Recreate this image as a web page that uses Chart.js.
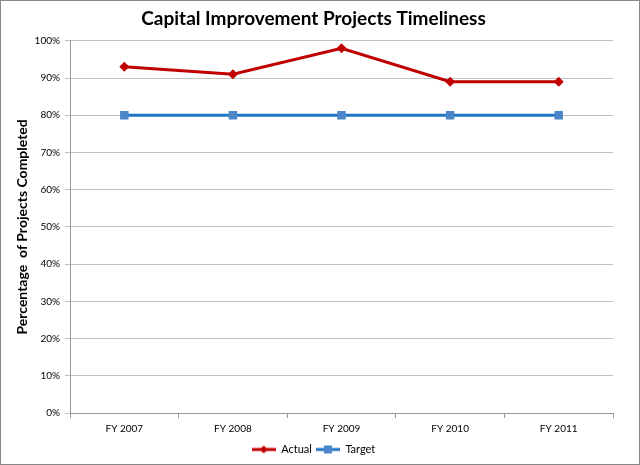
<!DOCTYPE html>
<html>
<head>
<meta charset="utf-8">
<script src="https://cdn.jsdelivr.net/npm/chart.js@4/dist/chart.umd.min.js"></script>
<style>
  html, body { margin: 0; padding: 0; background: #fff; }
  #wrap { width: 640px; height: 465px; }
</style>
</head>
<body>
<div id="wrap"><canvas id="chart" width="640" height="465"></canvas></div>
<script>
const years = ["FY 2007", "FY 2008", "FY 2009", "FY 2010", "FY 2011"];
const actual = [93, 91, 98, 89, 89];
const target = [80, 80, 80, 80, 80];

const red = "#C00000";
const blue = "#1F77C4";
const blueMarker = "#4A86C8";

// small legend symbol: line with marker
function legendIcon(color, fill, shape) {
    const c = document.createElement("canvas");
    c.width = 24; c.height = 10;
    const g = c.getContext("2d");
    g.strokeStyle = color;
    g.lineWidth = 3;
    g.beginPath(); g.moveTo(0, 5); g.lineTo(24, 5); g.stroke();
    g.fillStyle = fill;
    if (shape === "diamond") {
        g.beginPath(); g.moveTo(12, 1); g.lineTo(16, 5); g.lineTo(12, 9); g.lineTo(8, 5); g.closePath(); g.fill();
    } else {
        g.fillRect(8, 1, 8, 8);
    }
    return c;
}

const frame = {
    id: "frame",
    beforeDraw(chart) {
        const ctx = chart.ctx;
        ctx.save();
        ctx.fillStyle = "#fff";
        ctx.fillRect(0, 0, chart.width, chart.height);
        ctx.strokeStyle = "#888";
        ctx.lineWidth = 1;
        ctx.strokeRect(0.5, 0.5, chart.width - 1, chart.height - 1);
        ctx.restore();
    }
};

new Chart(document.getElementById("chart"), {
    type: "line",
    data: {
        labels: years,
        datasets: [
            {
                label: "Actual",
                data: actual,
                borderColor: red,
                backgroundColor: red,
                borderWidth: 3,
                pointStyle: "rectRot",
                pointRadius: 5,
                pointBorderWidth: 0,
                tension: 0
            },
            {
                label: "Target",
                data: target,
                borderColor: blue,
                backgroundColor: blueMarker,
                borderWidth: 3,
                pointStyle: "rect",
                pointRadius: 6,
                pointBorderWidth: 0,
                tension: 0
            }
        ]
    },
    options: {
        responsive: false,
        animation: false,
        layout: { padding: { left: 14, right: 27, top: 4, bottom: 0 } },
        plugins: {
            title: {
                display: true,
                text: "Capital Improvement Projects Timeliness",
                color: "#000",
                font: { family: "Lato", size: 19, weight: "bold" },
                padding: { top: 3, bottom: 11 }
            },
            legend: {
                position: "bottom",
                labels: {
                    color: "#000",
                    font: { family: "Lato", size: 11 },
                    boxWidth: 24,
                    boxHeight: 10,
                    pointStyleWidth: 24,
                    padding: 4,
                    usePointStyle: true,
                    generateLabels(chart) {
                        return chart.data.datasets.map((ds, i) => ({
                            text: ds.label,
                            datasetIndex: i,
                            fontColor: "#000",
                            pointStyle: i === 0 ? legendIcon(red, red, "diamond") : legendIcon(blue, blueMarker, "square"),
                            lineWidth: 0,
                            strokeStyle: "transparent",
                            fillStyle: "transparent"
                        }));
                    }
                }
            },
            tooltip: { enabled: false }
        },
        scales: {
            x: {
                offset: true,
                grid: {
                    offset: true,
                    drawOnChartArea: false,
                    drawTicks: true,
                    tickLength: 5,
                    color: "#999"
                },
                border: { color: "#999" },
                ticks: {
                    color: "#000",
                    font: { family: "Lato", size: 10 },
                    padding: 5
                },
                afterFit(scale) { scale.height = 27; }
            },
            y: {
                min: 0,
                max: 100,
                ticks: {
                    stepSize: 10,
                    color: "#000",
                    font: { family: "Lato", size: 10 },
                    padding: 5,
                    callback: v => v + "%"
                },
                grid: {
                    color: "#C0C0C0",
                    tickLength: 5
                },
                border: { color: "#999" },
                title: {
                    display: true,
                    text: "Percentage  of Projects Completed",
                    color: "#000",
                    font: { family: "Lato", size: 14, weight: "bold" },
                    padding: { top: 0, bottom: 8 }
                },
                afterFit(scale) { scale.width = 56; }
            }
        }
    },
    plugins: [frame]
});
</script>
</body>
</html>
